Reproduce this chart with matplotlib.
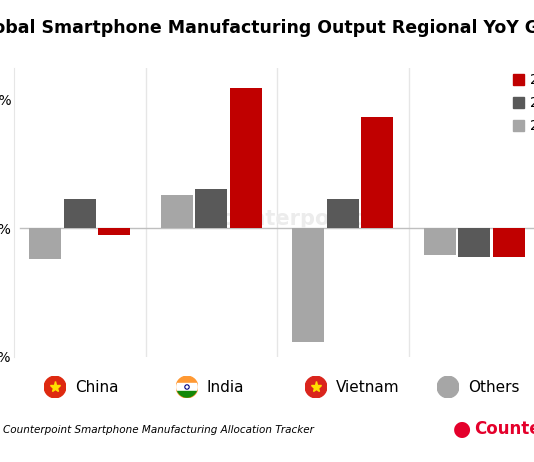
import matplotlib
matplotlib.use("Agg")
import matplotlib.pyplot as plt
import numpy as np
from matplotlib.patches import Rectangle

regions = ["China", "India", "Vietnam", "Others"]
years = ["2022", "2023", "2024"]
growth_2022 = [-4.7, 5.1, -17.7, -4.2]
growth_2023 = [4.5, 6.1, 4.5, -4.4]
growth_2024 = [-1.1, 21.8, 17.3, -4.4]
yticks = [-20, 0, 20]
ytick_labels = ["-20%", "0%", "20%"]
colors = ["#a6a6a6", "#595959", "#c00000"]

W, H = 534, 462
fig = plt.figure(figsize=(W/100, H/100), dpi=100)
ax = fig.add_axes([14/W, (H-357)/H, 526/W, 289/H])
x = np.arange(len(regions))
bw = 0.245
for i, (vals, c) in enumerate(zip([growth_2022, growth_2023, growth_2024], colors)):
    ax.bar(x + (i-1)*0.262, vals, bw, color=c, zorder=3)
ax.set_xlim(-0.5, 3.5)
ax.set_ylim(-20, 24.9)
ax.axhline(0, color="#bfbfbf", lw=1, zorder=2, xmin=0.012)
for xv in [0.5, 1.5, 2.5]:
    ax.axvline(xv, color="#e6e6e6", lw=1, zorder=1)
for s in ["top", "right", "bottom"]:
    ax.spines[s].set_visible(False)
ax.spines["left"].set_color("#e6e6e6")
ax.set_xticks([])
ax.set_yticks(yticks)
ax.set_yticklabels(ytick_labels, fontsize=10)
ax.tick_params(axis="y", length=0, pad=2)
ax.text(1.55, 1.5, "Counterpoint", fontsize=15, color="#ececec", fontweight="bold",
        ha="center", va="center", zorder=2)

fig.text(-27/W, 1-28/H, "Global Smartphone Manufacturing Output Regional YoY Growth Rate",
         fontsize=12.5, fontweight="bold", ha="left", va="center")

for i, (yr, c) in enumerate(zip(years[::-1], colors[::-1])):
    yy = 80 + i*23
    fig.patches.append(Rectangle((513/W, 1-(yy+5)/H), 11/W, 11/H, color=c, transform=fig.transFigure))
    fig.text(530/W, 1-yy/H, yr, fontsize=10, va="center")

fx = [55, 187, 316, 448]
flagc = ["#de2910", "#ff9933", "#da251d", "#a6a6a6"]
for i, (r, px) in enumerate(zip(regions, fx)):
    cy = 1-387/H
    ax_f = fig.add_axes([(px-11)/W, cy-11/H, 22/W, 22/H])
    ax_f.set_xlim(-1, 1); ax_f.set_ylim(-1, 1); ax_f.axis("off")
    ax_f.add_patch(plt.Circle((0, 0), 0.98, color=flagc[i]))
    if r in ("China", "Vietnam"):
        ax_f.plot([0], [0], marker="*", color="#ffde00", markersize=8)
    if r == "India":
        ax_f.add_patch(Rectangle((-1, -0.33), 2, 0.66, color="white", clip_path=ax_f.patches[0]))
        ax_f.add_patch(Rectangle((-1, -1), 2, 0.67, color="#138808", clip_path=ax_f.patches[0]))
        ax_f.add_patch(plt.Circle((0, 0), 0.2, color="#000080", fill=False, lw=0.8))
    fig.text((px+20)/W, cy, r, fontsize=11, va="center")

fig.text(3/W, 1-430/H, "Counterpoint Smartphone Manufacturing Allocation Tracker",
         fontsize=7.5, style="italic", va="center", ha="left")
fig.text(462/W, 1-429/H, "●", fontsize=15, color="#e4002b", ha="center", va="center")
fig.text(474/W, 1-429/H, "Counterpoint", fontsize=12, color="#e4002b", fontweight="bold", va="center")
fig.savefig("out.png", dpi=100)
